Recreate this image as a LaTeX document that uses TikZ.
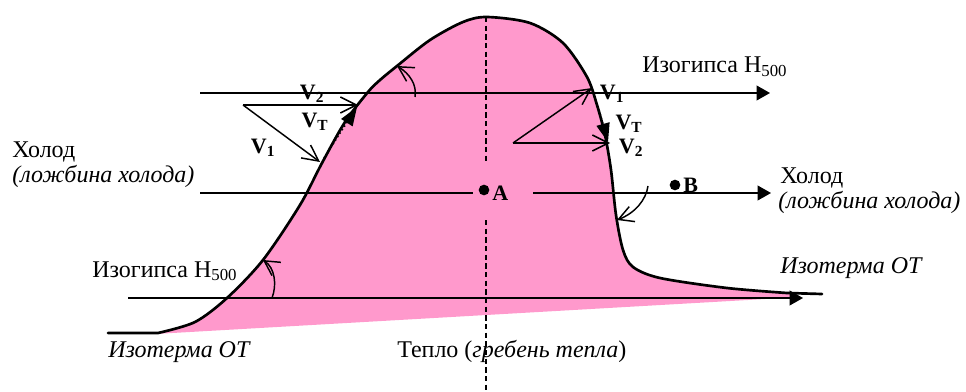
\documentclass[tikz,border=0pt]{standalone}
\usepackage{fontspec}
\setmainfont{Liberation Serif}
\usetikzlibrary{arrows.meta}
\definecolor{frontpink}{RGB}{255,153,204}
\begin{document}
\begin{tikzpicture}[x=0.75pt,y=-0.75pt,
  every node/.style={font=\fontsize{18}{20}\selectfont, inner sep=0pt},
  lbl/.style={anchor=base west},
  vlbl/.style={font=\fontsize{16.5}{18}\selectfont\bfseries},
  hline/.style={line width=1.3pt},
  bigarrow/.style={hline,-{Triangle[length=10pt,width=11pt]}},
  vecline/.style={line width=1.1pt,-{Straight Barb[length=12pt,width=12pt,line width=1.1pt]}},
  turn/.style={line width=1.1pt,-{Straight Barb[length=11pt,width=12pt,line width=1.1pt]}},
  tvec/.style={line width=1.1pt,dotted,-{Triangle[length=14pt,width=10pt]}},
  frontline/.style={line width=2pt,line join=round,line cap=round},
  axis/.style={line width=0.8pt,dash pattern=on 4pt off 2.5pt},
  dot/.style={circle,fill=black,minimum size=8pt,inner sep=0pt}
]
\useasboundingbox (0,0) rectangle (966,392);
\def\frontpts{(158,333) (195,322) (227,298) (263,260) (300,205) (322,163) (345,122) (368,92) (380,80) (397,66) (430,40) (463,22) (487,17) (530,23) (563,43) (587,77) (597,105) (605,135) (611,170) (616,215) (623,250) (633,267) (660,278) (727,288) (787,293)}

% pink warm tongue
\fill[frontpink] plot[smooth] coordinates {\frontpts} -- (800,297) -- (155,334) -- cycle;

% ridge axis
\coordinate (ax1) at (486,17);
\coordinate (ax2) at (486,163);
\coordinate (ax3) at (486,220);
\coordinate (ax4) at (486,392);
\draw[axis] (ax1) -- (ax2);
\draw[axis] (ax3) -- (ax4);

% horizontal lines
\coordinate (h1s) at (200,93);  \coordinate (h1e) at (770,93);
\coordinate (h2s) at (200,193); \coordinate (h2m) at (473,193);
\coordinate (h2n) at (533,193); \coordinate (h2e) at (771,193);
\coordinate (h3s) at (128,298); \coordinate (h3e) at (803,298);
\draw[bigarrow] (h1s) -- (h1e);
\draw[hline] (h2s) -- (h2m);
\draw[bigarrow] (h2n) -- (h2e);
\draw[bigarrow] (h3s) -- (h3e);

% front line
\draw[frontline] (108,333) -- plot[smooth] coordinates {\frontpts} -- (822,294);

% left vector triangle
\coordinate (lo) at (243,105);
\coordinate (lv2) at (358,105);
\coordinate (lv1) at (320,162);
\coordinate (ltA) at (324,158);
\coordinate (ltB) at (357,107);
\draw[vecline] (lo) -- (lv2);
\draw[vecline] (lo) -- (lv1);
\draw[tvec] (ltA) -- (ltB);

% right vector triangle
\coordinate (ro) at (513,143);
\coordinate (rv1) at (592,88);
\coordinate (rv2) at (610,143);
\coordinate (rtA) at (598,106);
\coordinate (rtB) at (608,142);
\draw[vecline] (ro) -- (rv1);
\draw[vecline] (ro) -- (rv2);
\draw[tvec] (rtA) -- (rtB);

% turning arrows
\coordinate (c1s) at (415,97);  \coordinate (c1e) at (397,66);
\draw[turn] (c1s) .. controls (417,85) and (410,74) .. (c1e);
\coordinate (c2s) at (272,298); \coordinate (c2e) at (263,260);
\draw[turn] (c2s) .. controls (277,285) and (275,268) .. (c2e);
\coordinate (c3s) at (648,186); \coordinate (c3e) at (617,220);
\draw[turn] (c3s) .. controls (646,200) and (635,213) .. (c3e);

% points
\node[dot] (A) at (484,190) {};
\node[vlbl,anchor=west] (Alab) at (492,193) {A};
\node[dot] (B) at (675,185) {};
\node[vlbl,anchor=west] (Blab) at (683,185) {B};

% vector labels
\node[vlbl] (lV2) at (312,94) {V\textsubscript{2}};
\node[vlbl] (lVT) at (315,122) {V\textsubscript{T}};
\node[vlbl] (lV1) at (263,148) {V\textsubscript{1}};
\node[vlbl] (rV1) at (612,94) {V\textsubscript{1}};
\node[vlbl] (rVT) at (629,124) {V\textsubscript{T}};
\node[vlbl] (rV2) at (631,148) {V\textsubscript{2}};

% texts
\node[lbl] (t1) at (642,73) {Изогипса H\textsubscript{500}};
\node[lbl] (t2) at (92,277) {Изогипса H\textsubscript{500}};
\node[lbl] (t3) at (12,157) {Холод};
\node[lbl] (t4) at (12,182) {\itshape (ложбина холода)};
\node[lbl] (t5) at (780,183) {Холод};
\node[lbl] (t6) at (778,208) {\itshape (ложбина холода)};
\node[lbl] (t7) at (108,357) {\itshape Изотерма ОТ};
\node[lbl] (t8) at (780,273) {\itshape Изотерма ОТ};
\node[lbl] (t9) at (397,357) {Тепло (\textit{гребень тепла})};
\end{tikzpicture}
\end{document}
